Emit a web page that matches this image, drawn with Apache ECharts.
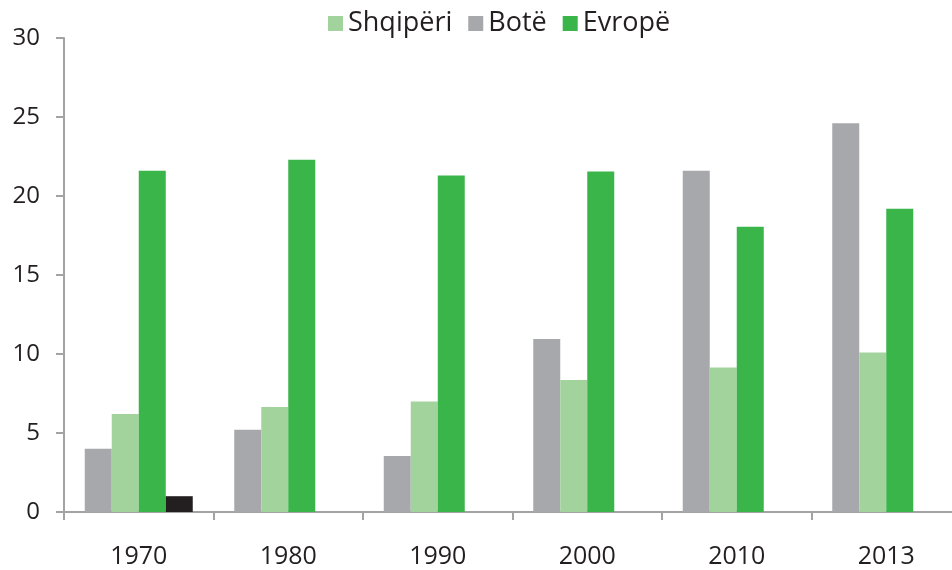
<!DOCTYPE html>
<html>
<head>
<meta charset="utf-8">
<script src="https://cdn.jsdelivr.net/npm/echarts@6/dist/echarts.min.js"></script>
<style>
  html, body { margin: 0; padding: 0; background: #fff; }
  #chart { width: 952px; height: 570px; }
</style>
</head>
<body>
<div id="chart"></div>
<script>
// years on the x axis
const years = ['1970', '1980', '1990', '2000', '2010', '2013'];
// series values
const bote = [4.0, 5.2, 3.55, 10.95, 21.6, 24.6];
const shqiperi = [6.2, 6.65, 7.0, 8.35, 9.15, 10.1];
const evrope = [21.6, 22.3, 21.3, 21.55, 18.05, 19.2];
const extra = [1.0, null, null, null, null, null];

const textColor = '#231F20';
const axisColor = '#A3A3A6';
const fontName = 'Open Sans';

let chart = echarts.init(document.getElementById('chart'));

function bar(name, data, color) {
    return {
        name: name,
        type: 'bar',
        data: data,
        barWidth: 27,
        barGap: '0%',
        itemStyle: { color: color },
        emphasis: { disabled: true }
    };
}

chart.setOption({
    animation: false,
    textStyle: { fontFamily: fontName },
    legend: {
        data: ['Shqipëri', 'Botë', 'Evropë'],
        left: 328,
        top: 10,
        padding: 0,
        icon: 'rect',
        itemWidth: 15,
        itemHeight: 15,
        itemGap: 16,
        textStyle: { fontSize: 27, color: textColor, fontFamily: fontName, padding: [0, 0, 0, 0] }
    },
    grid: { left: 64, width: 897, top: 38, bottom: 58, outerBoundsMode: 'none' },
    xAxis: {
        type: 'category',
        data: years,
        axisLine: { lineStyle: { color: axisColor, width: 2 } },
        axisTick: { show: true, length: 8, lineStyle: { color: axisColor, width: 2 } },
        axisLabel: { fontSize: 25, color: textColor, margin: 32 }
    },
    yAxis: {
        type: 'value',
        min: 0,
        max: 30,
        interval: 5,
        splitLine: { show: false },
        axisLine: { show: true, lineStyle: { color: axisColor, width: 2 } },
        axisTick: { show: true, length: 8, lineStyle: { color: axisColor, width: 2 } },
        axisLabel: { fontSize: 24, color: textColor, margin: 24 }
    },
    series: [
        bar('Botë', bote, '#A7A8AB'),
        bar('Shqipëri', shqiperi, '#A3D39C'),
        bar('Evropë', evrope, '#3AB54A'),
        bar('extra', extra, '#231F20')
    ]
});
</script>
</body>
</html>
